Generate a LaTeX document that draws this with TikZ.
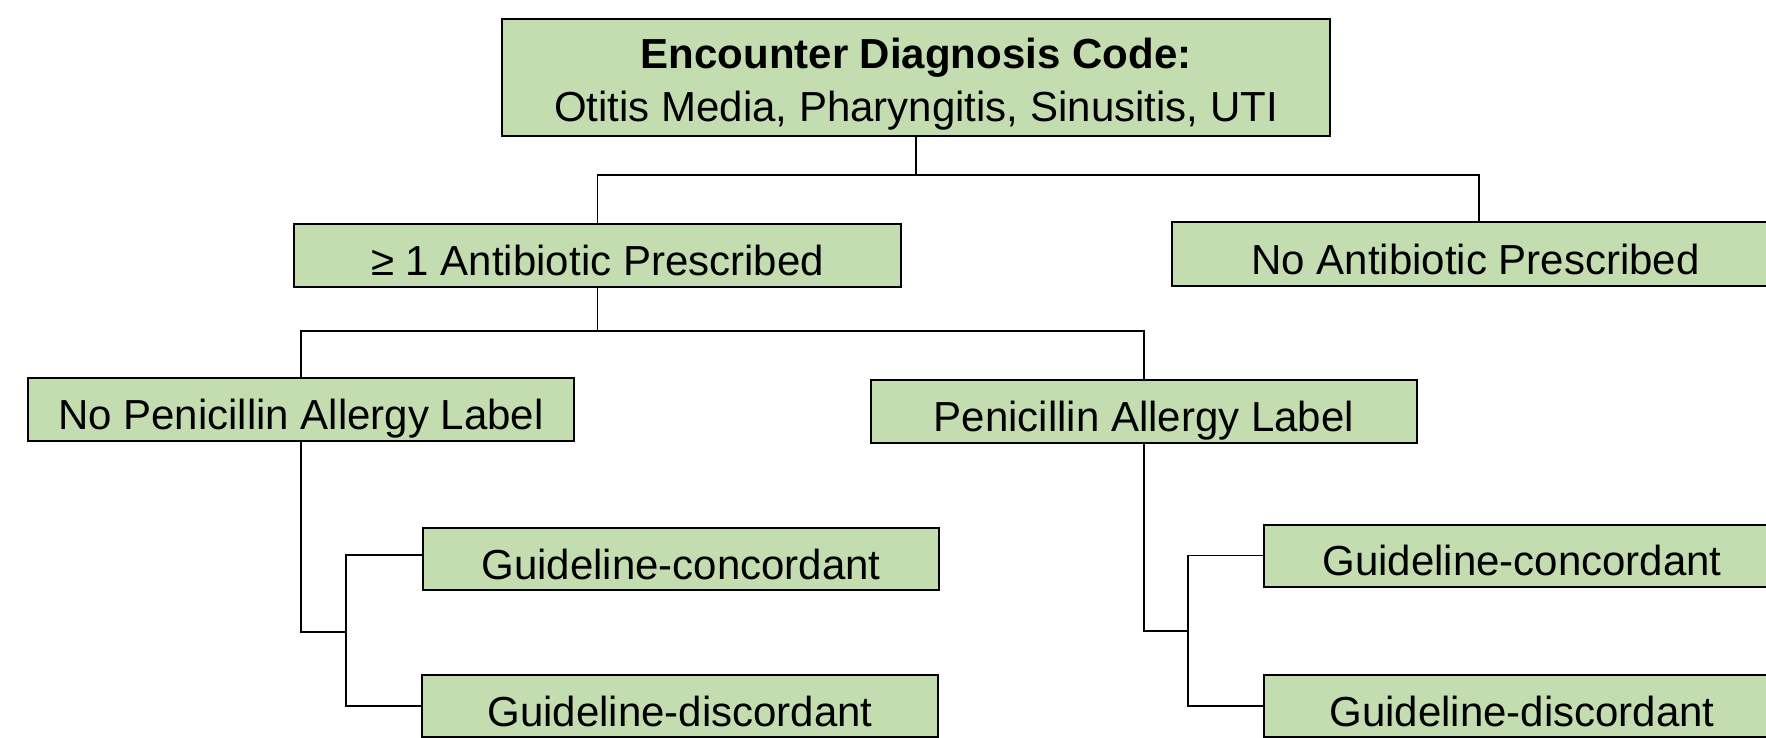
\documentclass[tikz,border=0pt]{standalone}
\usepackage{fontspec}
\setmainfont{Liberation Sans}
\definecolor{boxgreen}{RGB}{195,220,176}
\begin{document}
\begin{tikzpicture}[x=0.5pt,y=-0.5pt,
  box/.style={draw=black,line width=1pt,fill=boxgreen,inner sep=0pt,
    align=center,font=\fontsize{21}{26.5}\selectfont},
  onerow/.style={text height=20pt,text depth=0pt},
  conn/.style={draw=black,line width=0.75pt}]
\useasboundingbox (0,0) rectangle (1766,738);
\clip (0,0) rectangle (1766,738);
\node[box,minimum width=414pt,minimum height=58.5pt,text height=44pt,text depth=0pt] (top) at (916,77.5)
  {\textbf{Encounter Diagnosis Code:}\\Otitis Media, Pharyngitis, Sinusitis, UTI};
\node[box,onerow,minimum width=303.5pt,minimum height=31.5pt] (abx) at (597.5,255.5) {≥ 1 Antibiotic Prescribed};
\node[box,onerow,minimum width=303.5pt,minimum height=32pt] (noabx) at (1475.5,254) {No Antibiotic Prescribed};
\node[box,onerow,minimum width=273pt,minimum height=31.5pt] (nopen) at (301,409.5) {No Penicillin Allergy Label};
\node[box,onerow,minimum width=273pt,minimum height=31.5pt] (pen) at (1144,411.5) {Penicillin Allergy Label};
\node[box,onerow,minimum width=258pt,minimum height=31pt] (gc1) at (681,559) {Guideline-concordant};
\node[box,onerow,minimum width=258pt,minimum height=31pt] (gd1) at (680,706) {Guideline-discordant};
\node[box,onerow,minimum width=258pt,minimum height=31pt] (gc2) at (1522,555.5) {Guideline-concordant};
\node[box,onerow,minimum width=258pt,minimum height=31pt] (gd2) at (1522,706) {Guideline-discordant};
\coordinate (j1) at (916,175);
\coordinate (j2) at (597.5,331);
\coordinate (j3) at (301,632);
\coordinate (b1) at (346,632);
\coordinate (j4) at (1144,631);
\coordinate (b2) at (1188,631);
% top level
\draw[conn] (top.south) -- (j1);
\draw[conn] (j1) -| (abx.north);
\draw[conn] (j1) -| ([xshift=1.75pt]noabx.north);
% second level
\draw[conn] (abx.south) -- (j2);
\draw[conn] (j2) -| (nopen.north);
\draw[conn] (j2) -| (pen.north);
% left bracket
\draw[conn] (nopen.south) -- (j3) -- (b1);
\draw[conn] (b1) |- ([yshift=2pt]gc1.west);
\draw[conn] (b1) |- (gd1.west);
% right bracket
\draw[conn] (pen.south) -- (j4) -- (b2);
\draw[conn] (b2) |- (gc2.west);
\draw[conn] (b2) |- (gd2.west);
\end{tikzpicture}
\end{document}
